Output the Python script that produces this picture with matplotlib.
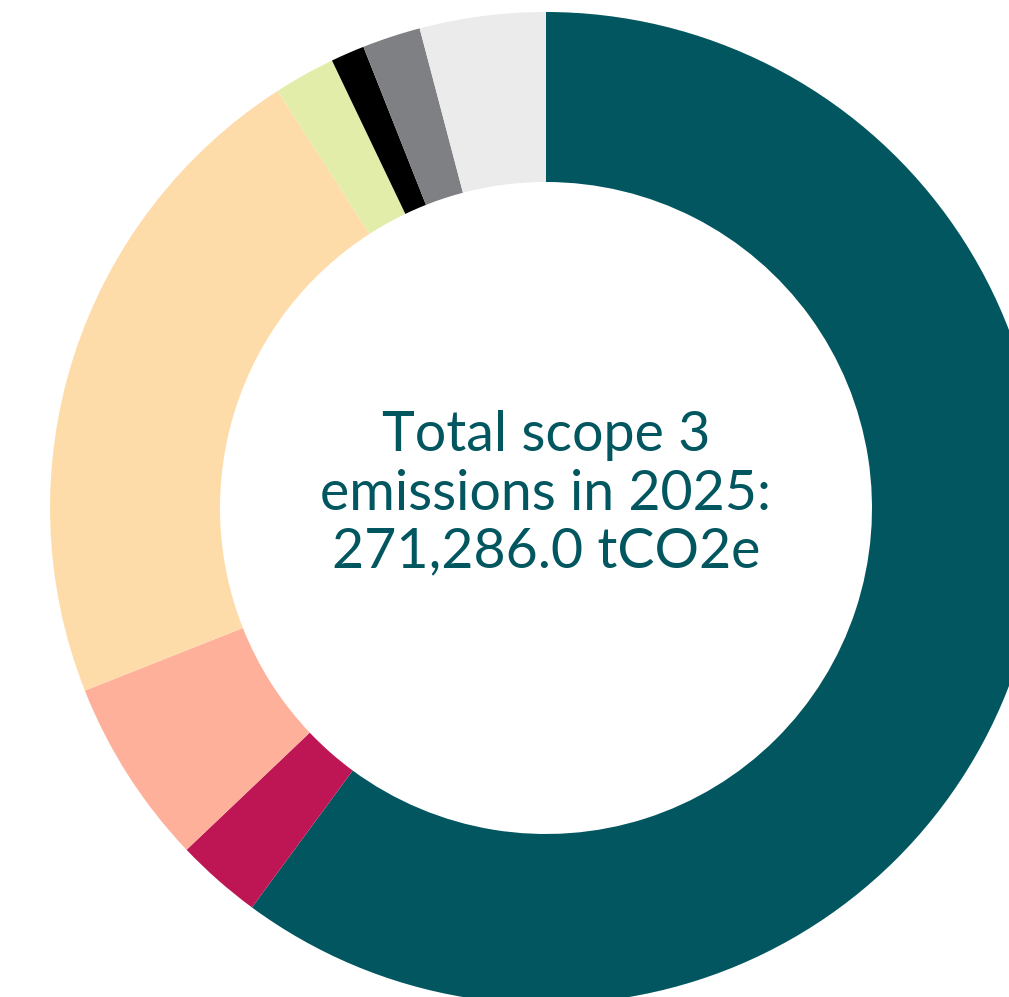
import matplotlib.pyplot as plt

# scope 3 share by category, clockwise from 12 o'clock (percent)
shares = [60.1, 2.8, 6.1, 21.9, 2.0, 1.1, 1.9, 4.1]
colors = ["#02565f", "#be1655", "#feb09a", "#fedcaa", "#e2edaa", "#000000", "#7f8083", "#ebebeb"]
center_lines = ["Total scope 3", "emissions in 2025:", "271,286.0 tCO2e"]

W, H = 1009, 997
cx, cy, R = 546, 508, 496

fig = plt.figure(figsize=(W / 100, H / 100), dpi=100)
ax = fig.add_axes([0, 0, 1, 1])
ax.pie(shares, colors=colors, startangle=90, counterclock=False, radius=1,
       wedgeprops=dict(width=170 / R, linewidth=0))
ax.set_xlim(-cx / R, (W - cx) / R)
ax.set_ylim(-(H - cy) / R, cy / R)
ax.set_aspect("auto")
ax.axis("off")

baselines = [451, 510, 567]
for txt, b in zip(center_lines, baselines):
    ax.text(0, (cy - b) / R, txt, ha="center", va="baseline", fontsize=40,
            family="Lato", color="#02565f")

fig.savefig("out.png", dpi=100)
